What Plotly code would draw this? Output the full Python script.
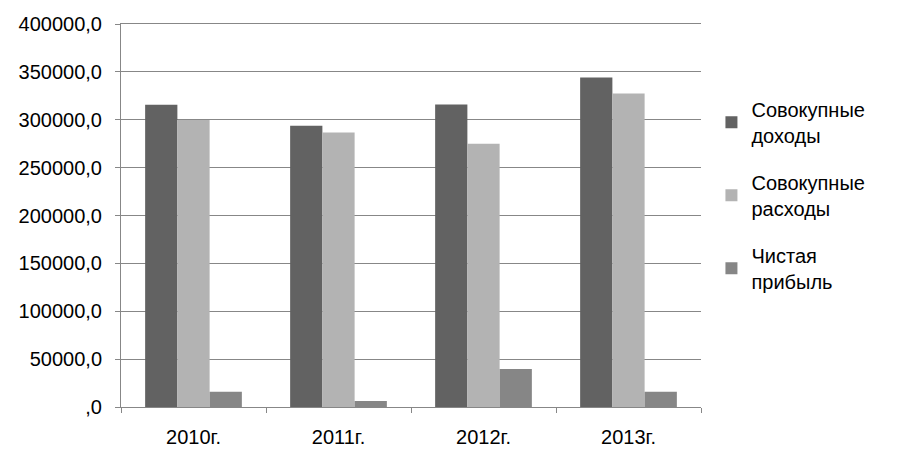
import plotly.graph_objects as go

categories = ["2010г.", "2011г.", "2012г.", "2013г."]
income = [315700, 293800, 316000, 344000]
expenses = [299800, 286700, 275000, 327500]
profit = [16000, 6300, 39800, 16000]
series_names = ["Совокупные<br>доходы", "Совокупные<br>расходы", "Чистая<br>прибыль"]
colors = ["#626262", "#b3b3b3", "#868686"]
tick_vals = [0, 50000, 100000, 150000, 200000, 250000, 300000, 350000, 400000]
tick_text = [",0", "50000,0", "100000,0", "150000,0", "200000,0", "250000,0", "300000,0", "350000,0", "400000,0"]

fig = go.Figure()
for i, (name, vals) in enumerate(zip(series_names, [income, expenses, profit])):
    fig.add_trace(go.Bar(x=categories, y=vals, name=name, marker_color=colors[i],
                         marker_line_width=0, legendgroup=str(i)))

# page body has an 8px margin; compensate in figure size/margins
fig.update_layout(
    width=890, height=467,
    margin=dict(l=113, r=197, t=16, b=68, autoexpand=False),
    paper_bgcolor="white", plot_bgcolor="white",
    barmode="group", bargap=0.333, bargroupgap=0,
    font=dict(family="Liberation Sans, Arial, sans-serif", size=20, color="#000000"),
    legend=dict(x=1.018, xanchor="left", y=0.553, yanchor="middle",
                font=dict(size=20), tracegroupgap=18, traceorder="grouped",
                itemwidth=30),
    showlegend=True,
)
fig.update_yaxes(range=[0, 400000], tickvals=tick_vals, ticktext=tick_text,
                 showgrid=True, gridcolor="#878787", gridwidth=1,
                 showline=True, linecolor="#878787", linewidth=1,
                 ticks="outside", ticklen=5, tickcolor="#878787",
                 ticklabelstandoff=9, automargin=False,
                 zeroline=False, tickfont=dict(size=20))
fig.update_xaxes(showline=True, linecolor="#878787", linewidth=1, mirror=True,
                 ticks="outside", ticklen=5, tickcolor="#878787",
                 ticklabelstandoff=12, automargin=False,
                 tickson="boundaries", tickfont=dict(size=20))

fig.write_html("out.html")
